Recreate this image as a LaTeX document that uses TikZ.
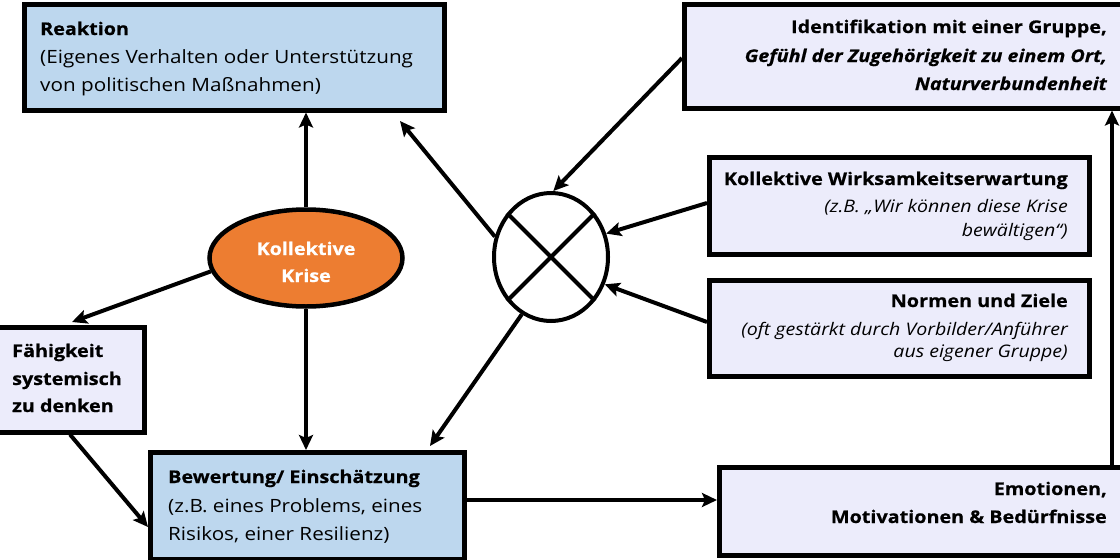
\documentclass[tikz,border=0pt]{standalone}
\usepackage{fontspec}
\setmainfont{Open Sans}[FakeStretch=1.13,BoldFeatures={FakeBold=0.6},BoldItalicFeatures={FakeBold=0.6}]
\usetikzlibrary{shapes.geometric,arrows.meta,calc}
\definecolor{lblue}{HTML}{BDD7EE}
\definecolor{lav}{HTML}{ECECFB}
\definecolor{krise}{HTML}{ED7D31}
\tikzset{
  box/.style={draw=black, line width=4.5pt, rectangle, inner sep=0pt, anchor=north west},
  bluebox/.style={box, fill=lblue},
  lavbox/.style={box, fill=lav},
  reg/.style={inner sep=0pt, font=\fontsize{18.3}{22}\selectfont},
  bld/.style={inner sep=0pt, font=\fontsize{17.5}{22}\selectfont\bfseries},
  bit/.style={inner sep=0pt, font=\fontsize{17.5}{22}\selectfont\bfseries\itshape},
  sub/.style={inner sep=0pt, font=\fontsize{17.3}{22}\selectfont\itshape},
  L/.style={anchor=base west},
  R/.style={anchor=base east},
  conn/.style={line width=4pt, -{Stealth[length=15pt,width=14pt,inset=3pt]}},
}
\begin{document}
\begin{tikzpicture}[x=1pt,y=-1pt]
\useasboundingbox (0,0) rectangle (1120,560);
% boxes
\node[bluebox, minimum width=420, minimum height=106] (reak) at (22,2) {};
\node[lavbox, minimum width=450, minimum height=104] (ident) at (682,2) {};
\node[lavbox, minimum width=380, minimum height=97] (wirk) at (707,155) {};
\node[lavbox, minimum width=380, minimum height=96] (norm) at (707,278) {};
\node[lavbox, minimum width=150, minimum height=105] (faeh) at (-8,325) {};
\node[bluebox, minimum width=314, minimum height=107] (bew) at (148,450) {};
\node[lavbox, minimum width=420, minimum height=88] (emo) at (717,465) {};
\node[ellipse, draw=black, line width=4.5pt, fill=krise, minimum width=193, minimum height=97, inner sep=0pt] (kk) at (306,258) {};
\node[ellipse, draw=black, line width=4pt, fill=white, minimum width=114, minimum height=128, inner sep=0pt] (xc) at (551,257) {};
\draw[line width=4pt] (xc.45) -- (xc.225) (xc.135) -- (xc.315);
% texts
\node[bld, L] (reak1) at (40,35) {Reaktion};
\node[reg, L] (reak2) at (40,63) {(Eigenes Verhalten oder Unterstützung};
\node[reg, L] (reak3) at (40,91) {von politischen Maßnahmen)};
\node[bld, R] (ident1) at (1107,33) {Identifikation mit einer Gruppe,};
\node[bit, R] (ident2) at (1107,62) {Gefühl der Zugehörigkeit zu einem Ort,};
\node[bit, R] (ident3) at (1107,90) {Naturverbundenheit};
\node[bld, R] (wirk1) at (1068,185) {Kollektive Wirksamkeitserwartung};
\node[sub, R] (wirk2) at (1068,212) {(z.B. „Wir können diese Krise};
\node[sub, R] (wirk3) at (1068,236) {bewältigen“)};
\node[bld, R] (norm1) at (1068,307) {Normen und Ziele};
\node[sub, R] (norm2) at (1068,335) {(oft gestärkt durch Vorbilder/Anführer};
\node[sub, R] (norm3) at (1068,357) {aus eigener Gruppe)};
\node[bld, L] (faeh1) at (12,357) {Fähigkeit};
\node[bld, L] (faeh2) at (12,385) {systemisch};
\node[bld, L] (faeh3) at (12,412) {zu denken};
\node[bld, L] (bew1) at (168,483) {Bewertung/ Einschätzung};
\node[reg, L] (bew2) at (168,512) {(z.B. eines Problems, eines};
\node[reg, L] (bew3) at (168,540) {Risikos, einer Resilienz)};
\node[bld, R] (emo1) at (1107,495) {Emotionen,};
\node[bld, R] (emo2) at (1107,523) {Motivationen \& Bedürfnisse};
\node[bld, anchor=base, text=white] (kk1) at (306,255) {Kollektive};
\node[bld, anchor=base, text=white] (kk2) at (306,282) {Krise};
% free ends
\coordinate (reakx) at (400,121);
\coordinate (faehin) at (72,322);
\coordinate (bewin) at (148,527);
\coordinate (bewx) at (430,446);
% connectors
\draw[conn] (kk.north) -- (reak.south -| kk.north);
\draw[conn] (kk.south) -- (bew.north -| kk.south);
\draw[conn] (kk.188) -- (faehin);
\draw[conn] (faeh.south -| 70,0) -- (bewin);
\draw[conn] (xc.160) -- (reakx);
\draw[conn] (ident.west |- 0,58) -- (xc.88);
\draw[conn] (wirk.west |- 0,203) -- (xc.23);
\draw[conn] (norm.west |- 0,322) -- (xc.-27);
\draw[conn] (xc.243) -- (bewx);
\draw[conn] (bew.east |- 0,500) -- (emo.west |- 0,500);
\draw[conn] (emo.north -| 1112,0) -- (ident.south -| 1112,0);
\end{tikzpicture}
\end{document}
